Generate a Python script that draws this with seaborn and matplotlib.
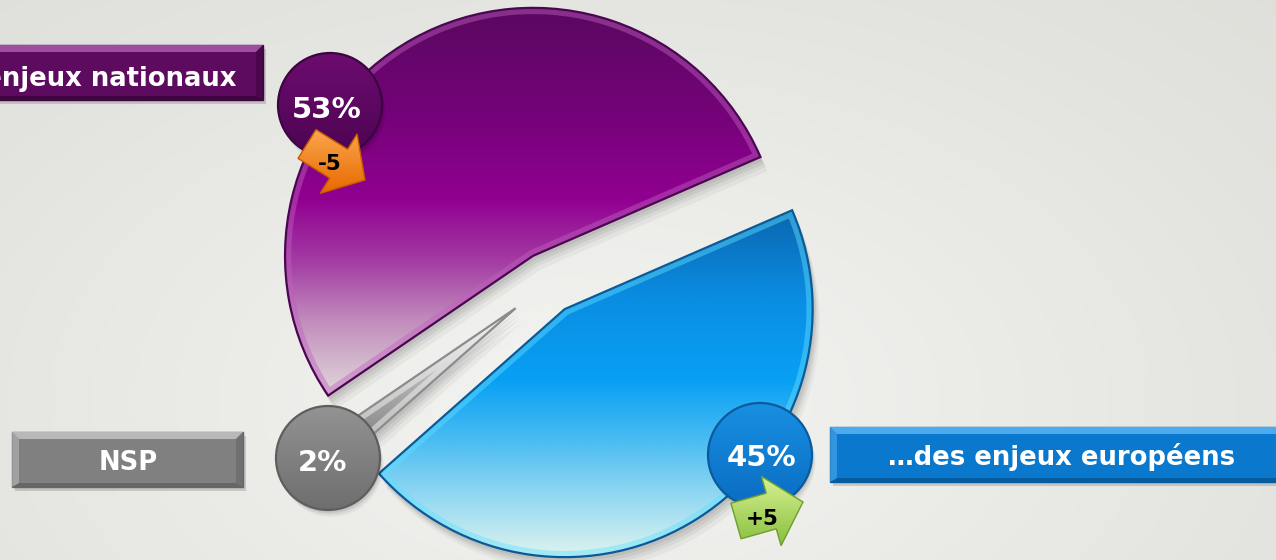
import numpy as np
import matplotlib
matplotlib.use("Agg")
import matplotlib.pyplot as plt
import matplotlib.patches as mpatches
from matplotlib.colors import to_rgb
import seaborn as sns

# ---------------- data ----------------
categories = ["…des enjeux nationaux", "NSP", "…des enjeux européens"]
values = [53, 2, 45]
changes = ["-5", "", "+5"]

sns.set_theme(style="white")
plt.rcParams['font.family'] = ['DejaVu Sans']

W, H = 1276, 560
fig = plt.figure(figsize=(W / 100, H / 100), dpi=100)
ax = fig.add_axes([0, 0, 1, 1])
ax.set_xlim(0, W)
ax.set_ylim(0, H)
ax.axis('off')


def Y(py):
    return H - py


def grad_img(stops, z, clip):
    ys = np.arange(H) + 0.5
    pys = [s[0] for s in stops]
    cols = np.array([to_rgb(s[1]) for s in stops])
    img = np.stack([np.interp(ys, pys, cols[:, k]) for k in range(3)], axis=-1)[:, None, :]
    im = ax.imshow(img, extent=(0, W, 0, H), origin='upper', aspect='auto',
                   zorder=z, interpolation='bilinear')
    im.set_clip_path(clip)
    return im


# ---------------- background ----------------
yy, xx = np.mgrid[0:H, 0:W]
d = np.sqrt(((xx - 600) / 720.0) ** 2 + ((yy - 400) / 430.0) ** 2)
c0, c1, c2 = np.array(to_rgb("#F4F4F2")), np.array(to_rgb("#E3E3DF")), np.array(to_rgb("#DCDCD7"))
t1 = np.clip(d, 0, 1)[..., None]
t2 = np.clip(d - 1, 0, 0.6)[..., None] / 0.6
bg = c0 * (1 - t1) + c1 * t1
bg = bg * (1 - t2) + c2 * t2
ax.imshow(bg, extent=(0, W, 0, H), origin='upper', aspect='auto', zorder=0)

# ---------------- pie ----------------
wedges, _ = ax.pie(values, startangle=23.5, counterclock=True, radius=248,
                   center=(548, Y(283)), explode=[31, 41, 31], frame=True,
                   wedgeprops=dict(linewidth=0))
ax.set_xlim(0, W)
ax.set_ylim(0, H)
ax.axis('off')

slice_grads = [
    [(10, "#5A0860"), (110, "#730378"), (200, "#910091"), (265, "#A540A5"),
     (320, "#C18CBC"), (385, "#DCCED6")],
    [(300, "#F0F0F0"), (360, "#C4C4C4"), (440, "#858585")],
    [(215, "#0A68B2"), (300, "#0A8EE4"), (380, "#08A0F4"), (440, "#4ABCF2"),
     (500, "#98DAF2"), (555, "#DCF3EF")],
]
slice_edges = ["#4A0650", "#8C8C8C", "#0B5A98"]
slice_hl = ["#C060C0", "#FFFFFF", "#5FE0FF"]

for w, stops, ec, hl in zip(wedges, slice_grads, slice_edges, slice_hl):
    # soft drop shadow
    for off, a in [(4, 0.06), (7, 0.06), (10, 0.05), (14, 0.04)]:
        s = mpatches.Wedge((w.center[0] + off * 0.5, w.center[1] - off), w.r,
                           w.theta1, w.theta2, facecolor="black", alpha=a,
                           lw=0, zorder=1)
        ax.add_patch(s)
    w.set_facecolor("none")
    w.set_edgecolor(ec)
    w.set_linewidth(1.6)
    w.set_zorder(3)
    grad_img(stops, 2, w)
    band = mpatches.Wedge(w.center, w.r, w.theta1, w.theta2, fill=False,
                          edgecolor=hl, lw=9, alpha=0.45, zorder=2.5)
    ax.add_patch(band)
    band.set_clip_path(w)

# ---------------- labels boxes ----------------
box_specs = [
    # x0, x1, ytop, ybottom (pixels), main, light, dark
    (-170, 263, 45, 100, "#5C0B5E", "#9E4EA0", "#3E0540"),
    (12, 243, 432, 487, "#808080", "#B8B8B8", "#666666"),
    (830, 1294, 427, 482, "#0A78CC", "#4EAAEE", "#075C9E"),
]
text_pos = [(236, 77, 'right'), (128, 461, 'center'), (1062, 456, 'center')]

for cat, (x0, x1, yt, yb, cm, cl, cd), (tx, ty, ha) in zip(categories, box_specs, text_pos):
    ax.add_patch(mpatches.Rectangle((x0 + 3, Y(yb) - 4), x1 - x0, yb - yt,
                                    facecolor="black", alpha=0.15, lw=0, zorder=3.5))
    ax.add_patch(mpatches.Rectangle((x0, Y(yb)), x1 - x0, yb - yt,
                                    facecolor=cm, edgecolor=cd, lw=1, zorder=4))
    b = 7
    ax.add_patch(mpatches.Polygon([(x0, Y(yt)), (x1, Y(yt)), (x1 - b, Y(yt + b)), (x0 + b, Y(yt + b))],
                                  closed=True, facecolor=cl, lw=0, zorder=4.1))
    ax.add_patch(mpatches.Polygon([(x0, Y(yb)), (x1, Y(yb)), (x1 - b, Y(yb - 4)), (x0 + b, Y(yb - 4))],
                                  closed=True, facecolor=cd, lw=0, zorder=4.1))
    ax.add_patch(mpatches.Polygon([(x1, Y(yt)), (x1, Y(yb)), (x1 - b, Y(yb - 4)), (x1 - b, Y(yt + b))],
                                  closed=True, facecolor=cd, alpha=0.6, lw=0, zorder=4.1))
    ax.add_patch(mpatches.Polygon([(x0, Y(yt)), (x0, Y(yb)), (x0 + b, Y(yb - 4)), (x0 + b, Y(yt + b))],
                                  closed=True, facecolor=cl, alpha=0.6, lw=0, zorder=4.1))
    size_px = 18.6 * 100 / 72
    ax.text(tx, Y(ty + 0.365 * size_px), cat, ha=ha, va='baseline', color="white",
            fontsize=18.6, fontweight='bold', zorder=8)

# ---------------- percentage badges ----------------
badge_pos = [(330, 105), (328, 458), (760, 455)]
badge_grads = [
    [(55, "#6C0C70"), (157, "#4C0450")],
    [(406, "#939393"), (510, "#6E6E6E")],
    [(402, "#1890E2"), (508, "#0A6CC2")],
]
badge_edges = ["#3E0442", "#5E5E5E", "#0A5A9C"]
badge_text = [(327, 107.5), (322, 460), (762, 455.5)]
R = 52
for v, (cx, cy), gs, ec, (tx, ty) in zip(values, badge_pos, badge_grads, badge_edges, badge_text):
    for off, a in [(3, 0.08), (5, 0.06), (7, 0.04)]:
        ax.add_patch(mpatches.Circle((cx + off * 0.5, Y(cy) - off), R, facecolor="black",
                                     alpha=a, lw=0, zorder=5))
    c = mpatches.Circle((cx, Y(cy)), R, facecolor="none", edgecolor=ec, lw=1.6, zorder=6)
    ax.add_patch(c)
    grad_img(gs, 5.5, c)
    size_px = 21 * 100 / 72
    ax.text(tx, Y(ty + 0.365 * size_px), f"{v}%", ha='center', va='baseline',
            color="white", fontsize=21, fontweight='bold', zorder=8)

# ---------------- change arrows ----------------
arrow_specs = {
    "-5": dict(tail=(307, 144), tip=(365, 180), width=34, hw=70, hl=31,
               grad=[(128, "#FBA850"), (192, "#E86A00")], ec="#C85A00", txt=(330, 162)),
    "+5": dict(tail=(736, 521), tip=(803, 502), width=37, hw=72, hl=33,
               grad=[(478, "#D6F090"), (547, "#86BE3C")], ec="#6E9E2C", txt=(762, 517.5)),
}
for ch in changes:
    if not ch:
        continue
    sp = arrow_specs[ch]
    (x0, y0), (x1, y1) = sp["tail"], sp["tip"]
    arr = mpatches.FancyArrow(x0, Y(y0), x1 - x0, -(y1 - y0), width=sp["width"],
                              head_width=sp["hw"], head_length=sp["hl"],
                              length_includes_head=True, facecolor="none",
                              edgecolor=sp["ec"], lw=1.0, zorder=7.1)
    ax.add_patch(arr)
    grad_img(sp["grad"], 7, arr)
    size_px = 15.5 * 100 / 72
    tx, ty = sp["txt"]
    ax.text(tx, Y(ty + 0.365 * size_px), ch, ha='center', va='baseline', color="black",
            fontsize=15.5, fontweight='bold', zorder=8)

fig.savefig("out.png", dpi=100)
